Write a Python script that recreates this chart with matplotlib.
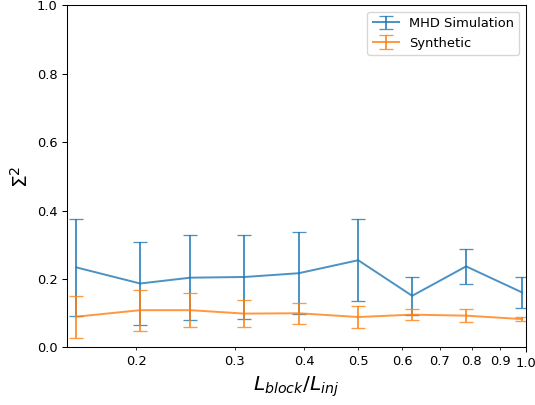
import numpy as np
import matplotlib
matplotlib.use("Agg")
import matplotlib.pyplot as plt
from matplotlib.ticker import FormatStrFormatter

# block size / injection scale
ratio = [0.156, 0.203, 0.25, 0.3125, 0.391, 0.5, 0.625, 0.781, 0.984]

# Sigma^2 mean and spread
mhd_mean = [0.234, 0.187, 0.204, 0.206, 0.217, 0.255, 0.151, 0.237, 0.161]
mhd_err = [0.142, 0.122, 0.125, 0.122, 0.120, 0.119, 0.055, 0.052, 0.045]
syn_mean = [0.090, 0.109, 0.109, 0.099, 0.100, 0.089, 0.096, 0.093, 0.083]
syn_err = [0.061, 0.060, 0.050, 0.040, 0.030, 0.031, 0.016, 0.019, 0.006]

dpi = 94
fig, ax = plt.subplots(figsize=(535 / dpi, 405 / dpi), dpi=dpi)
fig.subplots_adjust(left=0.125, right=0.983, bottom=0.142, top=0.987)

ax.errorbar(ratio, mhd_mean, yerr=mhd_err, capsize=5, alpha=0.8, label='MHD Simulation')
ax.errorbar(ratio, syn_mean, yerr=syn_err, capsize=5, alpha=0.8, label='Synthetic')

ax.set_xscale('log')
ax.set_xlim(0.15, 1.0)
ax.set_ylim(0, 1)
ax.xaxis.set_major_formatter(FormatStrFormatter('%.1f'))
ax.xaxis.set_minor_formatter(FormatStrFormatter('%.1f'))

ax.set_xlabel(r'$L_{block}/L_{inj}$', fontsize=15.5)
ax.set_ylabel(r'$\Sigma^2$', fontsize=15.5)
ax.legend(loc='upper right')

plt.savefig('out.png', dpi=dpi)
